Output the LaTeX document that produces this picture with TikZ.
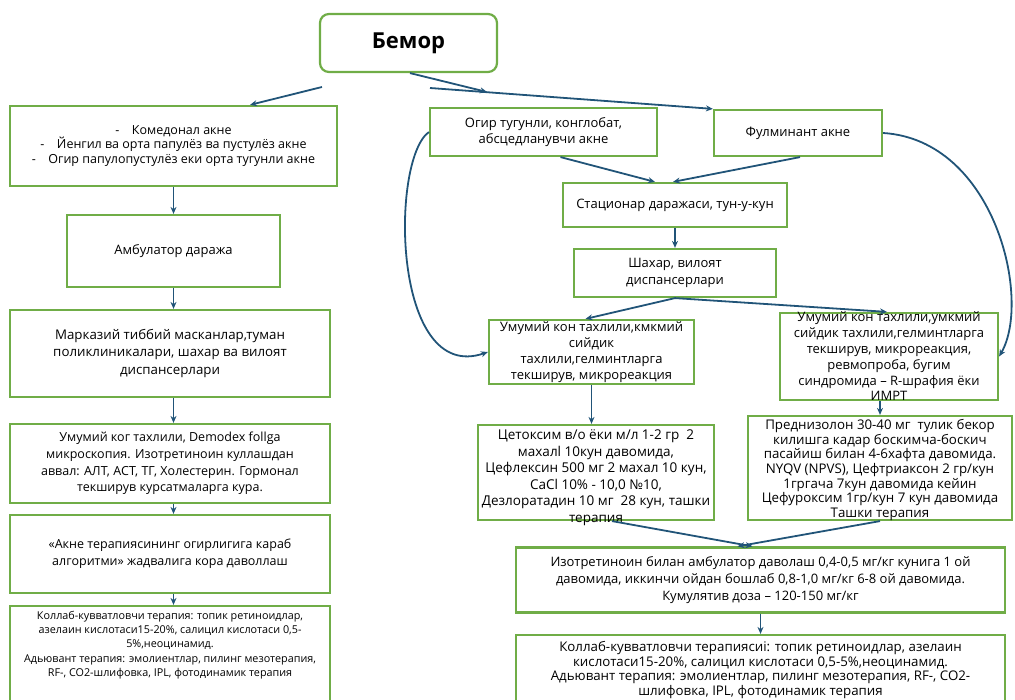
\documentclass[tikz,border=0pt]{standalone}
\usepackage{fontspec}
\setmainfont{Open Sans}
\usetikzlibrary{arrows.meta}
\definecolor{gbord}{RGB}{112,173,71}
\definecolor{arr}{RGB}{33,84,120}
\newcommand\bx[3][0pt]{\makebox[0pt][c]{\raisebox{#1}[0pt][0pt]{\parbox[b][0pt][c]{#2}{\centering #3}}}}
\begin{document}
\begin{tikzpicture}[x=1pt,y=-1pt,
  gbox/.style={draw=gbord, line width=2.2pt, rectangle, inner sep=0pt, font=\fontsize{13}{16.5}\selectfont},
  conn/.style={draw=arr, line width=1.8pt, -{Stealth[length=7pt,width=6pt]}}]
\useasboundingbox (0,0) rectangle (1015,700);
% title
\node[gbox, rounded corners=9pt, minimum width=177, minimum height=58, font=\fontsize{22}{26}\selectfont\bfseries] (bemor) at (408.5,43) {Бемор};
% left column
\node[gbox, minimum width=327, minimum height=80, font=\fontsize{12.5}{14.6}\selectfont] (L1) at (173.5,146) {\bx{380pt}{-\quad Комедонал акне\\ -\quad Йенгил ва орта папулёз ва пустулёз акне\\ -\quad Огир папулопустулёз еки орта тугунли акне}};
\node[gbox, minimum width=213, minimum height=72] (L2) at (173.5,251) {\bx{260pt}{Амбулатор даража}};
\node[gbox, minimum width=320, minimum height=87, font=\fontsize{13.3}{17.5}\selectfont] (L3) at (170,353.5) {\bx{370pt}{Марказий тиббий масканлар,туман\\ поликлиникалари, шахар ва вилоят\\ диспансерлари}};
\node[gbox, minimum width=320, minimum height=79, font=\fontsize{12.5}{16.6}\selectfont] (L4) at (170,463.5) {\bx{370pt}{Умумий ког тахлили, Demodex follga\\ микроскопия. Изотретиноин куллашдан\\ аввал: АЛТ, АСТ, ТГ, Холестерин. Гормонал\\ текширув курсатмаларга кура.}};
\node[gbox, minimum width=320, minimum height=78, font=\fontsize{12.5}{17}\selectfont] (L5) at (170,554) {\bx{370pt}{«Акне терапиясининг огирлигига караб\\ алгоритми» жадвалига кора даволлаш}};
\node[gbox, minimum width=320, minimum height=110, font=\fontsize{10.8}{14.3}\selectfont] (L6) at (170,661) {\bx[16pt]{370pt}{Коллаб-кувватловчи терапия: топик ретиноидлар,\\ азелаин кислотаси15-20\%, салицил кислотаси 0,5-\\ 5\%,неоцинамид.\\ Адьювант терапия: эмолиентлар, пилинг мезотерапия,\\ RF-, CO2-шлифовка, IPL, фотодинамик терапия}};
% right side
\node[gbox, minimum width=227, minimum height=48] (og) at (543.5,132) {\bx{270pt}{Огир тугунли, конглобат,\\ абсцедланувчи акне}};
\node[gbox, minimum width=168, minimum height=46] (ful) at (798,133) {\bx{220pt}{Фулминант акне}};
\node[gbox, minimum width=224, minimum height=44] (stat) at (675,205) {\bx{270pt}{Стационар даражаси, тун-у-кун}};
\node[gbox, minimum width=202, minimum height=48] (shah) at (675,273) {\bx{250pt}{Шахар, вилоят\\ диспансерлари}};
\node[gbox, minimum width=205, minimum height=64, font=\fontsize{13}{16}\selectfont] (ukl) at (591.5,352) {\bx{250pt}{Умумий кон тахлили,кмкмий\\ сийдик\\ тахлили,гелминтларга\\ текширув, микрореакция}};
\node[gbox, minimum width=218, minimum height=87, font=\fontsize{13}{15.8}\selectfont] (ukr) at (889,356.5) {\bx{270pt}{Умумий кон тахлили,умкмий\\ сийдик тахлили,гелминтларга\\ текширув, микрореакция,\\ ревмопроба, бугим\\ синдромида – R-шрафия ёки\\ ИМРТ}};
\node[gbox, minimum width=236, minimum height=95, font=\fontsize{13.5}{16.5}\selectfont] (cet) at (596,472.5) {\bx[-5pt]{290pt}{Цетоксим в/о ёки м/л 1-2 гр\ \ 2\\ махалl 10кун давомида,\\ Цефлексин 500 мг 2 махал 10 кун,\\ CaCl 10\% - 10,0 №10,\\ Дезлоратадин 10 мг\ \ 28 кун, ташки\\ терапия}};
\node[gbox, minimum width=264, minimum height=104, font=\fontsize{13.3}{14.6}\selectfont] (pred) at (880,468) {\bx[-2pt]{310pt}{Преднизолон 30-40 мг\ \ тулик бекор\\ килишга кадар боскимча-боскич\\ пасайиш билан 4-6хафта давомида.\\ NYQV (NPVS), Цефтриаксон 2 гр/кун\\ 1гргача 7кун давомида кейин\\ Цефуроксим 1гр/кун 7 кун давомида\\ Ташки терапия}};
\node[gbox, minimum width=489, minimum height=65, font=\fontsize{13}{17}\selectfont] (izo) at (760.5,580) {\bx{540pt}{Изотретиноин билан амбулатор даволаш 0,4-0,5 мг/кг кунига 1 ой\\ давомида, иккинчи ойдан бошлаб 0,8-1,0 мг/кг 6-8 ой давомида.\\ Кумулятив доза – 120-150 мг/кг}};
\node[gbox, minimum width=489, minimum height=90, font=\fontsize{13.3}{14.7}\selectfont] (colR) at (760.5,680) {\bx[10pt]{540pt}{Коллаб-кувватловчи терапиясиі: топик ретиноидлар, азелаин\\ кислотаси15-20\%, салицил кислотаси 0,5-5\%,неоцинамид.\\ Адьювант терапия: эмолиентлар, пилинг мезотерапия, RF-, CO2-\\ шлифовка, IPL, фотодинамик терапия}};
% free coordinates
\coordinate (b1) at (322,87);
\coordinate (b2) at (487,92);
\coordinate (b3) at (430,88);
% connectors from Бемор
\draw[conn] (b1) -- ([xshift=76.5pt]L1.north);
\draw[conn] ([xshift=1.5pt]bemor.south) -- (b2);
\draw[conn] (b3) -- (ful.north west);
% left column
\draw[conn] (L1.south) -- (L2.north);
\draw[conn] (L2.south) -- (L2.south |- L3.north);
\draw[conn] (L2.south |- L3.south) -- (L2.south |- L4.north);
\draw[conn] (L2.south |- L4.south) -- (L2.south |- L5.north);
\draw[conn] (L2.south |- L5.south) -- (L2.south |- L6.north);
% right side
\draw[conn] ([xshift=17pt]og.south) -- ([xshift=-20pt]stat.north);
\draw[conn] ([xshift=2pt]ful.south) -- ([xshift=-2pt]stat.north);
\draw[conn] (og.west) .. controls (390,160) and (392,385) .. (ukl.west);
\draw[conn] (ful.east) .. controls (995,140) and (1032,300) .. (ukr.east);
\draw[conn] (stat.south) -- (shah.north);
\draw[conn] (shah.south) -- ([xshift=-6pt]ukl.north);
\draw[conn] (shah.south) -- ([xshift=-2pt]ukr.north);
\draw[conn] (ukl.south) -- (ukl.south |- cet.north);
\draw[conn] (pred.north |- ukr.south) -- (pred.north);
\draw[conn] ([xshift=16pt]cet.south) -- ([xshift=-8pt]izo.north);
\draw[conn] (pred.south) -- ([xshift=-23pt]izo.north);
\draw[conn] (izo.south) -- (colR.north);
\end{tikzpicture}
\end{document}
